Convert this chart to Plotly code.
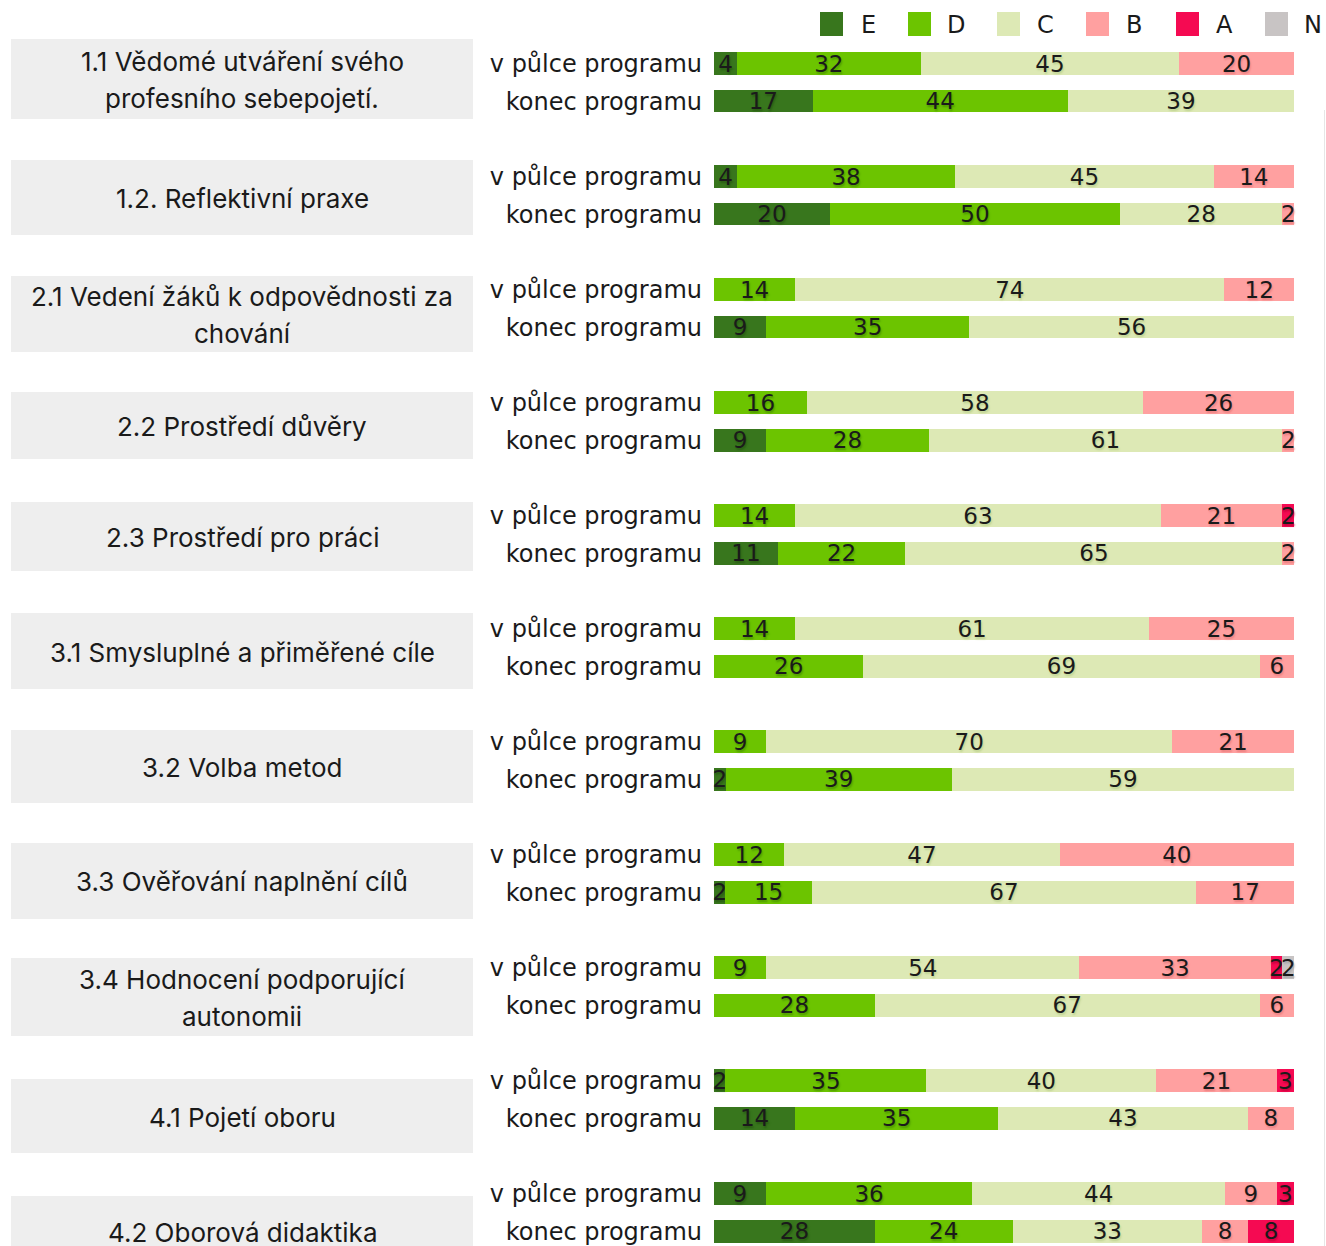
import plotly.graph_objects as go

# ---------------- data ----------------
categories = [
    "1.1 Vědomé utváření svého\nprofesního sebepojetí.",
    "1.2. Reflektivní praxe",
    "2.1 Vedení žáků k odpovědnosti za\nchování",
    "2.2 Prostředí důvěry",
    "2.3 Prostředí pro práci",
    "3.1 Smysluplné a přiměřené cíle",
    "3.2 Volba metod",
    "3.3 Ověřování naplnění cílů",
    "3.4 Hodnocení podporující\nautonomii",
    "4.1 Pojetí oboru",
    "4.2 Oborová didaktika",
]
row_labels = ["v půlce programu", "konec programu"]
series_names = ["E", "D", "C", "B", "A", "N"]

E_mid = [4, 4, 0, 0, 0, 0, 0, 0, 0, 2, 9]
E_end = [17, 20, 9, 9, 11, 0, 2, 2, 0, 14, 28]
D_mid = [32, 38, 14, 16, 14, 14, 9, 12, 9, 35, 36]
D_end = [44, 50, 35, 28, 22, 26, 39, 15, 28, 35, 24]
C_mid = [45, 45, 74, 58, 63, 61, 70, 47, 54, 40, 44]
C_end = [39, 28, 56, 61, 65, 69, 59, 67, 67, 43, 33]
B_mid = [20, 14, 12, 26, 21, 25, 21, 40, 33, 21, 9]
B_end = [0, 2, 0, 2, 2, 6, 0, 17, 6, 8, 8]
A_mid = [0, 0, 0, 0, 2, 0, 0, 0, 2, 3, 3]
A_end = [0, 0, 0, 0, 0, 0, 0, 0, 0, 0, 8]
N_mid = [0, 0, 0, 0, 0, 0, 0, 0, 2, 0, 0]
N_end = [0, 0, 0, 0, 0, 0, 0, 0, 0, 0, 0]

# ---------------- style ----------------
W, H = 1326, 1246
colors = ["#38761d", "#6cc400", "#dde9b5", "#ffa0a0", "#f50a52", "#c8c4c4"]
shadows = ["#2a5e14", "#4f9a00", "#bfd392", "#ec8080", "#c8003c", "#a8a8a8"]
mids = [E_mid, D_mid, C_mid, B_mid, A_mid, N_mid]
ends = [E_end, D_end, C_end, B_end, A_end, N_end]

Y0 = 63.5      # pixel centre of first row
P = 37.67      # pixels per y unit
X_LEFT, X_RIGHT = 714, 1294
BOX_TOP = [39, 160, 276, 392, 502, 613, 730, 843, 958, 1079, 1196]
BOX_BOT = [119, 235, 352, 459, 571, 689, 803, 919, 1036, 1153, 1266]
LEG_X = [820, 908, 997, 1086, 1176, 1265]

def px(p):
    return p / W

def py(p):
    return 1 - p / H

n = len(categories)
fig = go.Figure()
for name, col, sh, mid, end in zip(series_names, colors, shadows, mids, ends):
    xs, ys, txt = [], [], []
    for i in range(n):
        xs += [mid[i], end[i]]
        ys += [3 * i, 3 * i + 1]
        txt += [str(mid[i]) if mid[i] else "", str(end[i]) if end[i] else ""]
    fig.add_trace(go.Bar(
        x=xs, y=ys, orientation="h", name=name,
        marker=dict(color=col, line=dict(width=0)),
        text=txt, textposition="inside", insidetextanchor="middle",
        textangle=0, constraintext="none", cliponaxis=False,
        textfont=dict(family="DejaVu Sans", size=23, color="#1a1a1a",
                      shadow=f"1px 2px 2px {sh}"),
        width=0.6, showlegend=False, hoverinfo="skip",
    ))

tickvals, ticktext = [], []
for i in range(n):
    tickvals += [3 * i, 3 * i + 1]
    ticktext += row_labels

shapes, annotations = [], []
for i, cat in enumerate(categories):
    t, b = BOX_TOP[i], BOX_BOT[i]
    shapes.append(dict(type="rect", xref="paper", yref="paper",
                       x0=px(11), x1=px(473), y0=py(t), y1=py(b),
                       fillcolor="#eeeeee", line=dict(width=0), layer="below"))
    lines = cat.split("\n")
    c = (t + b) / 2 + 1
    k = len(lines)
    for j, ln in enumerate(lines):
        yc = c + (j - (k - 1) / 2) * 37
        annotations.append(dict(text=ln, xref="paper", yref="paper",
                                x=px(242), y=py(yc), xanchor="center", yanchor="middle",
                                showarrow=False,
                                font=dict(family="Inter", size=26, color="#1a1a1a")))

# manual legend
for name, col, lx in zip(series_names, colors, LEG_X):
    shapes.append(dict(type="rect", xref="paper", yref="paper",
                       x0=px(lx), x1=px(lx + 23), y0=py(12), y1=py(36),
                       fillcolor=col, line=dict(width=0)))
    annotations.append(dict(text=name, xref="paper", yref="paper",
                            x=px(lx + 48), y=py(25), xanchor="center", yanchor="middle",
                            showarrow=False,
                            font=dict(family="DejaVu Sans", size=24, color="#1a1a1a")))

shapes.append(dict(type="line", xref="paper", yref="paper",
                   x0=px(1324.5), x1=px(1324.5), y0=py(110), y1=py(1246),
                   line=dict(color="#e6e6e6", width=1)))

fig.update_layout(
    width=W, height=H,
    margin=dict(l=0, r=0, t=0, b=0, pad=0),
    barmode="stack", barnorm="percent",
    plot_bgcolor="white", paper_bgcolor="white",
    xaxis=dict(domain=[px(X_LEFT), px(X_RIGHT)], range=[0, 100],
               showgrid=False, zeroline=False, showticklabels=False,
               fixedrange=True),
    yaxis=dict(range=[(H - Y0) / P, -Y0 / P], tickvals=tickvals, ticktext=ticktext,
               showgrid=False, zeroline=False, ticks="", ticklabelstandoff=11,
               automargin=False, fixedrange=True,
               tickfont=dict(family="DejaVu Sans", size=24, color="#1a1a1a")),
    shapes=shapes, annotations=annotations,
    showlegend=False,
)

fig.write_html("out.html",
               config={"displayModeBar": False},
               post_script="document.body.style.margin='0';document.body.style.overflow='hidden';")
